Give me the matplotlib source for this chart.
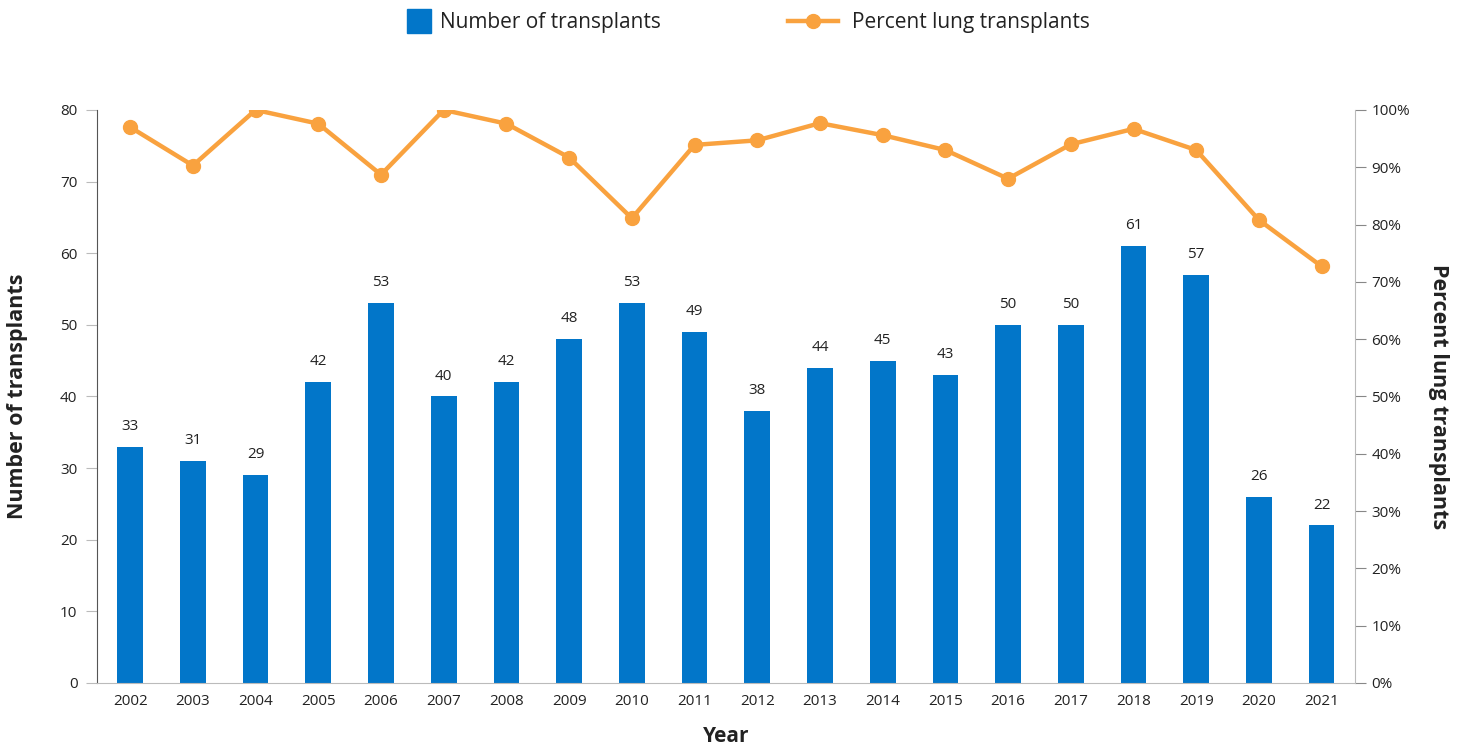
import matplotlib.pyplot as plt
from matplotlib.lines import Line2D
from matplotlib.ticker import FuncFormatter

plt.rcParams['font.family'] = ['Open Sans', 'DejaVu Sans']

years = ['2002', '2003', '2004', '2005', '2006', '2007', '2008', '2009', '2010', '2011',
         '2012', '2013', '2014', '2015', '2016', '2017', '2018', '2019', '2020', '2021']
transplants = [33, 31, 29, 42, 53, 40, 42, 48, 53, 49, 38, 44, 45, 43, 50, 50, 61, 57, 26, 22]
lung_pct = [97.0, 90.3, 100.0, 97.6, 88.7, 100.0, 97.6, 91.7, 81.1, 93.9,
            94.7, 97.7, 95.6, 93.0, 88.0, 94.0, 96.7, 93.0, 80.8, 72.7]

blue = '#0276C9'
orange = '#F9A23F'
txt = '#222222'

fig = plt.figure(figsize=(14.6, 7.48), dpi=100)
ax = fig.add_axes([0.0664, 0.0869, 0.8616, 0.7661])
ax2 = ax.twinx()

x = list(range(len(years)))
ax.bar(x, transplants, width=0.41, color=blue, zorder=2)
for xi, v in zip(x, transplants):
    ax.text(xi, v + 1.8, str(v), ha='center', va='bottom', fontsize=11, color=txt)

ax2.plot(x, lung_pct, color=orange, lw=3.2, marker='o', markersize=10, zorder=3)

ax.set_xlim(-0.53, 19.53)
ax.set_ylim(0, 80)
ax2.set_ylim(0, 100)
ax.set_yticks(range(0, 81, 10))
ax2.set_yticks(range(0, 101, 10))
ax2.yaxis.set_major_formatter(FuncFormatter(lambda v, p: f'{int(v)}%'))
ax.set_xticks(x)
ax.set_xticklabels(years)

for a in (ax, ax2):
    a.spines['top'].set_visible(False)
    a.tick_params(labelsize=11, labelcolor=txt)
ax.spines['left'].set_color('#555555')
ax.spines['bottom'].set_color('#bbbbbb')
ax.spines['right'].set_visible(False)
ax2.spines['left'].set_visible(False)
ax2.spines['bottom'].set_visible(False)
ax2.spines['right'].set_color('#bbbbbb')
ax.tick_params(axis='y', length=8, color='#bbbbbb', pad=6)
ax.tick_params(axis='x', length=0, pad=8)
ax2.tick_params(axis='y', length=8, color='#888888', pad=4)

ax.set_xlabel('Year', fontsize=15, fontweight='bold', color=txt, labelpad=12)
ax.set_ylabel('Number of transplants', fontsize=15.5, fontweight='bold', color=txt)
ax.yaxis.set_label_coords(-0.055, 0.5)
ax2.set_ylabel('Percent lung transplants', fontsize=15.5, fontweight='bold', color=txt,
               rotation=270, va='bottom')
ax2.yaxis.set_label_coords(1.058, 0.5)

# two single-entry legends so each handle gets its own length
bar_handle = Line2D([], [], ls='none', marker='s', markersize=17, color=blue)
line_handle = Line2D([], [], color=orange, lw=3.2, marker='o', markersize=10)
leg_opts = dict(loc='upper left', frameon=False, fontsize=15, borderpad=0, borderaxespad=0)
leg1 = fig.legend([bar_handle], ['Number of transplants'], bbox_to_anchor=(0.279, 0.984),
                  handlelength=1.1, handletextpad=0.48, **leg_opts)
leg2 = fig.legend([line_handle], ['Percent lung transplants'], bbox_to_anchor=(0.54, 0.984),
                  handlelength=2.4, handletextpad=0.67, **leg_opts)
for leg in (leg1, leg2):
    for t in leg.get_texts():
        t.set_color(txt)

fig.savefig('out.png', dpi=100)
